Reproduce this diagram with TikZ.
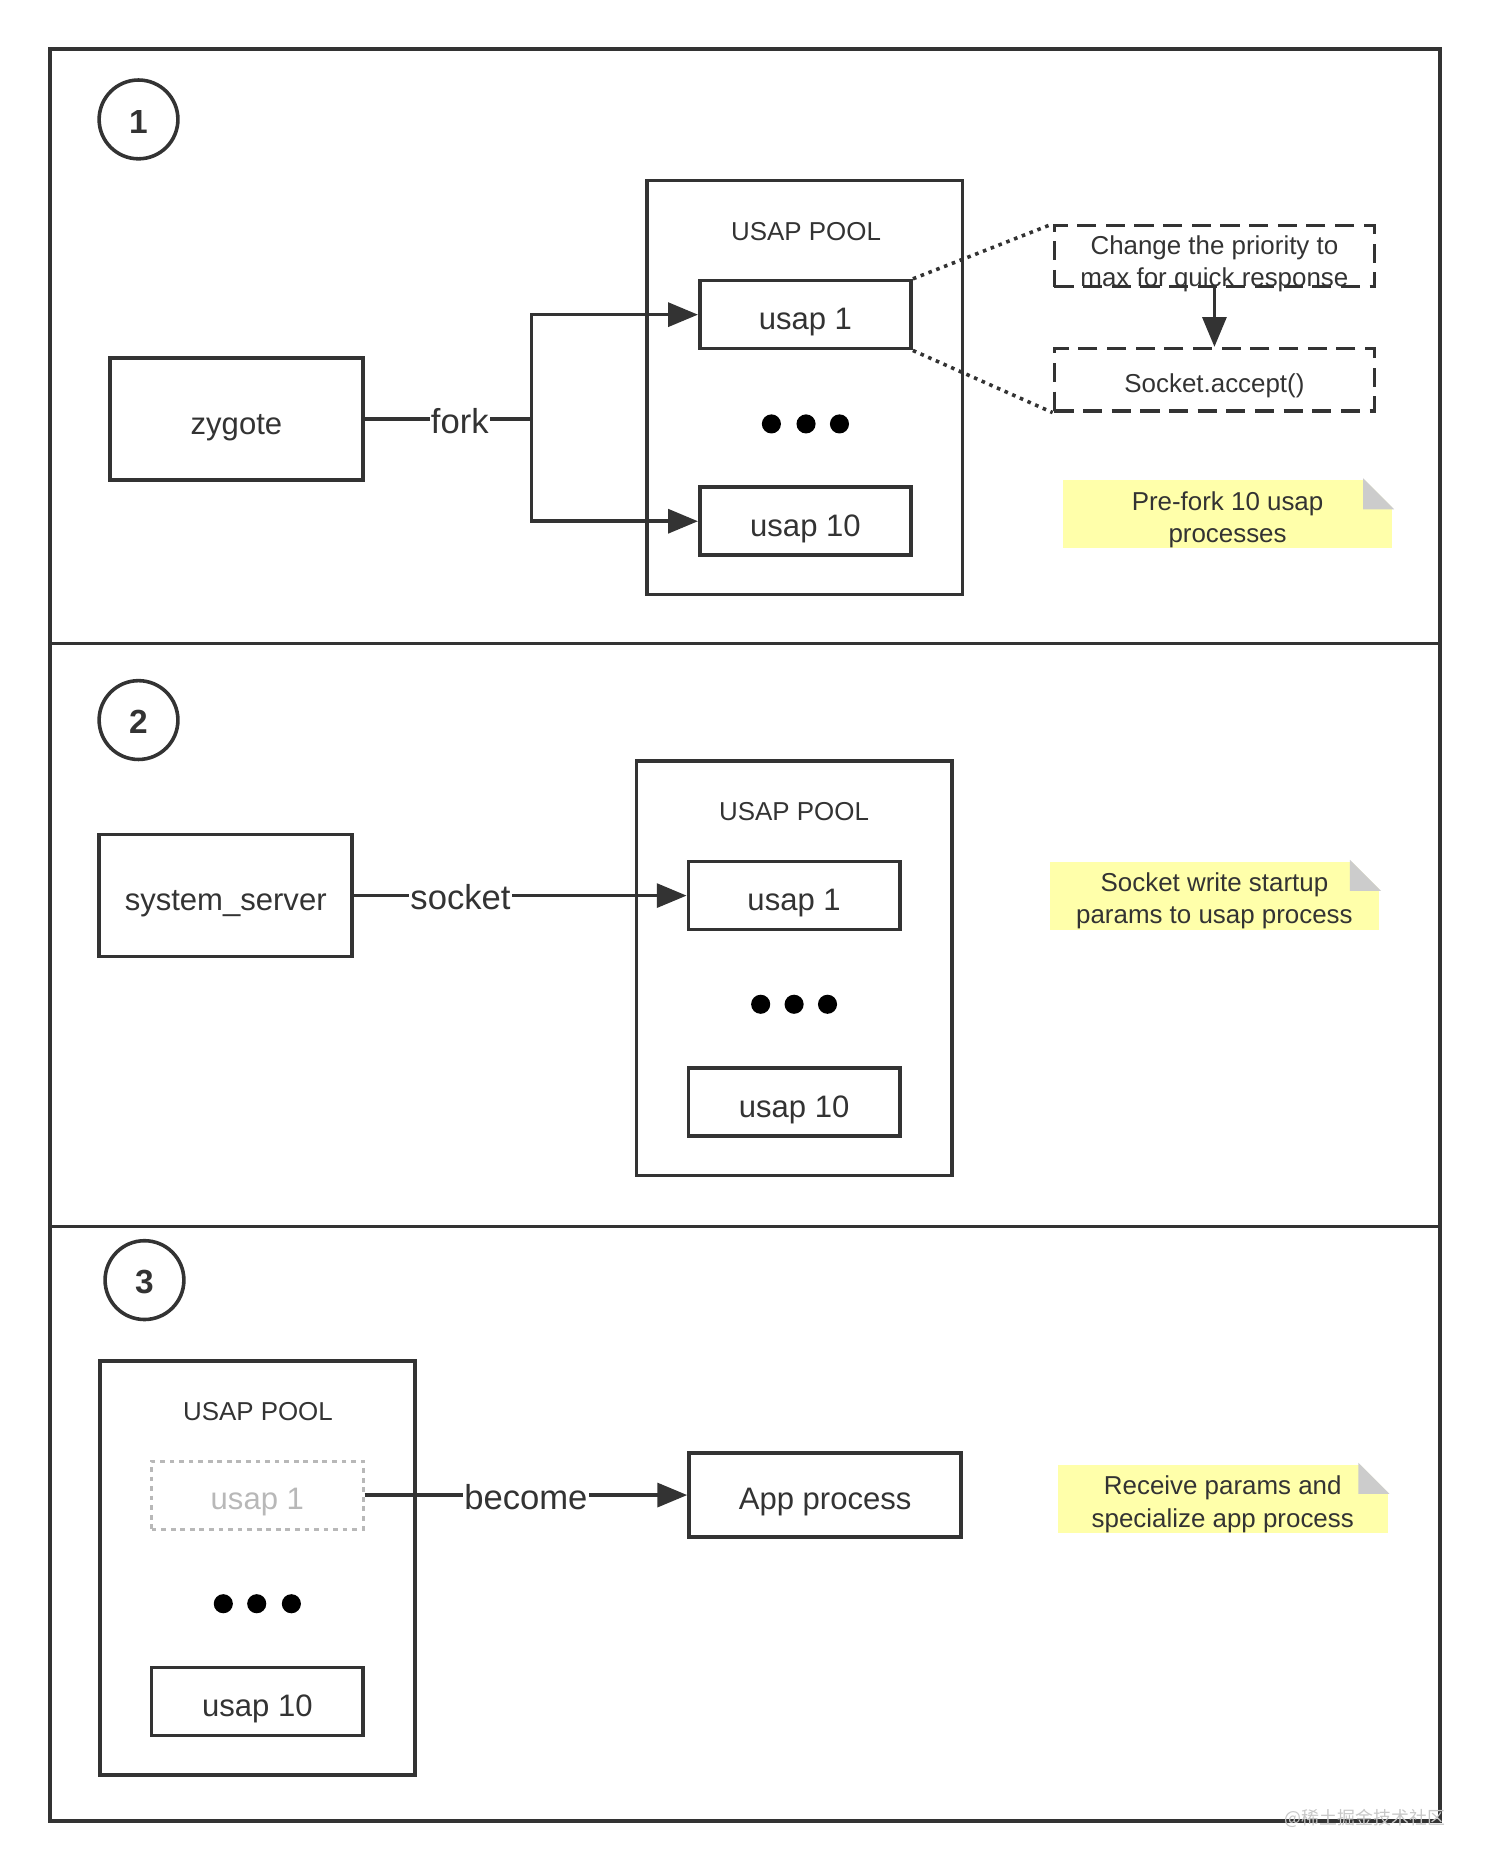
\documentclass[tikz,border=0pt]{standalone}
\usepackage{fontspec}
\setmainfont{Liberation Sans}
\newfontfamily\cjkfont{Noto Sans CJK SC}
\usepackage{tikz}
\usetikzlibrary{arrows.meta,positioning}
\definecolor{ink}{HTML}{333333}
\definecolor{noteyellow}{HTML}{FFFFAA}
\definecolor{foldgrey}{HTML}{CCCCCC}
\definecolor{ghost}{HTML}{B8B8B8}

\begin{document}
\begin{tikzpicture}[x=1pt,y=1pt,>={Triangle[length=25pt,width=20pt]},line width=3pt,
                    color=ink,node distance=173pt,font=\fontsize{21.7}{27}\selectfont]
  \tikzstyle{stepnum}=[draw,circle,minimum size=66pt,inner sep=0pt,text height=23pt,text depth=0pt,
                       font=\bfseries\fontsize{28}{28}\selectfont]
  \tikzstyle{pool}=[draw,rectangle,minimum width=264pt,minimum height=347pt,inner sep=0pt]
  \tikzstyle{proc}=[draw,rectangle,minimum width=177pt,minimum height=57pt,inner sep=0pt,
                    text height=25pt,text depth=0pt,font=\fontsize{26}{30}\selectfont]
  \tikzstyle{bigproc}=[proc,minimum width=212pt,minimum height=102pt]
  \tikzstyle{ghostproc}=[proc,draw=ghost,text=ghost,line width=2.5pt,dash pattern=on 4pt off 4pt]
  \tikzstyle{dashbox}=[draw,rectangle,minimum width=268pt,minimum height=51pt,inner sep=0pt,align=center,
                       dash pattern=on 16pt off 8pt]
  \tikzstyle{note}=[fill=noteyellow,rectangle,minimum width=276pt,minimum height=57pt,inner sep=0pt,
                    align=center,text height=51pt,text depth=3.5pt]
  \tikzstyle{lbl}=[fill=white,inner sep=1pt,text height=24pt,text depth=0pt,font=\fontsize{29}{30}\selectfont]
  \tikzstyle{dot}=[circle,fill=black,minimum size=16pt,inner sep=0pt]
  \tikzstyle{tie}=[dash pattern=on 3pt off 4pt]

  \useasboundingbox (0,0) rectangle (1245,-1566);

  % frame
  \draw (42,-41) rectangle (1206,-1525);
  \draw (42,-539) -- (1206,-539);
  \draw (42,-1027) -- (1206,-1027);

  % step 1
  \node[stepnum] (s1) at (116,-100) {1};
  \node[bigproc] (zygote) at (198,-351) {zygote};
  \node[pool] (pool1) at (674,-324.5) {};
  \node (title1) at (675,-194) {USAP POOL};
  \node[proc] (u1a) at (674.5,-263.5) {usap 1};
  \node[proc] (u10a) [below of=u1a] {usap 10};
  \foreach \i/\x in {1/646,2/675,3/703}
    \node[dot] (da\i) at (\x,-355) {};
  \node[dashbox,text height=50.5pt,text depth=0pt] (prio) at (1017,-214.5) {Change the priority to\\max for quick response};
  \node[dashbox,minimum height=52pt,text height=22pt,text depth=0pt] (accept) [below of=prio,node distance=103.5pt] {Socket.accept()};
  \node[note] (n1) at (1028,-430.5) {Pre-fork 10 usap\\processes};
  \coordinate (fj) at (445,-351);

  \draw (zygote) -- node[lbl,pos=0.57] {fork} (fj);
  \draw[->] (fj) |- (u1a);
  \draw[->] (fj) |- (u10a);
  \draw[->] (prio) -- (accept);
  \draw[tie] (u1a.north east) -- (prio.north west);
  \draw[tie] (u1a.south east) -- (accept.south west);

  % step 2
  \node[stepnum] (s2) at (116,-603) {2};
  \node[bigproc] (sysserver) at (189,-750) {system\_server};
  \node[pool] (pool2) at (665,-811) {};
  \node (title2) at (665,-680) {USAP POOL};
  \node[proc] (u1b) at (665,-750) {usap 1};
  \node[proc] (u10b) [below of=u1b] {usap 10};
  \foreach \i/\x in {1/637,2/665,3/693}
    \node[dot] (db\i) at (\x,-841) {};
  \node[note] (n2) at (1017,-750) {Socket write startup\\params to usap process};

  \draw[->] (sysserver) -- node[lbl,pos=0.32] {socket} (u1b);

  % step 3
  \node[stepnum] (s3) at (121,-1072) {3};
  \node[pool] (pool3) at (215.5,-1313) {};
  \node (title3) at (216,-1182) {USAP POOL};
  \node[ghostproc] (u1c) at (215.5,-1252) {usap 1};
  \node[proc] (u10c) [below of=u1c] {usap 10};
  \foreach \i/\x in {1/187,2/215,3/244}
    \node[dot] (dc\i) at (\x,-1343) {};
  \node[bigproc,minimum width=228pt,minimum height=70pt] (app) at (691,-1252) {App process};
  \node[note] (n3) at (1024,-1255) {Receive params and\\specialize app process};

  \draw[->] (u1c) -- node[lbl,pos=0.5] {become} (app);

  % folded corners of the notes
  \foreach \n in {n1,n2,n3}{
    \fill[white] ([xshift=-26pt]\n.north east) -- (\n.north east) -- ([yshift=-26pt]\n.north east) -- cycle;
    \fill[foldgrey] ([xshift=-26pt]\n.north east) -- ([xshift=-26pt,yshift=-26pt]\n.north east) -- ([yshift=-26pt]\n.north east) -- cycle;
  }

  \node[font=\cjkfont\fontsize{15}{15}\selectfont,text=black!22] (wm) at (1143,-1523) {@稀土掘金技术社区};
\end{tikzpicture}
\end{document}
